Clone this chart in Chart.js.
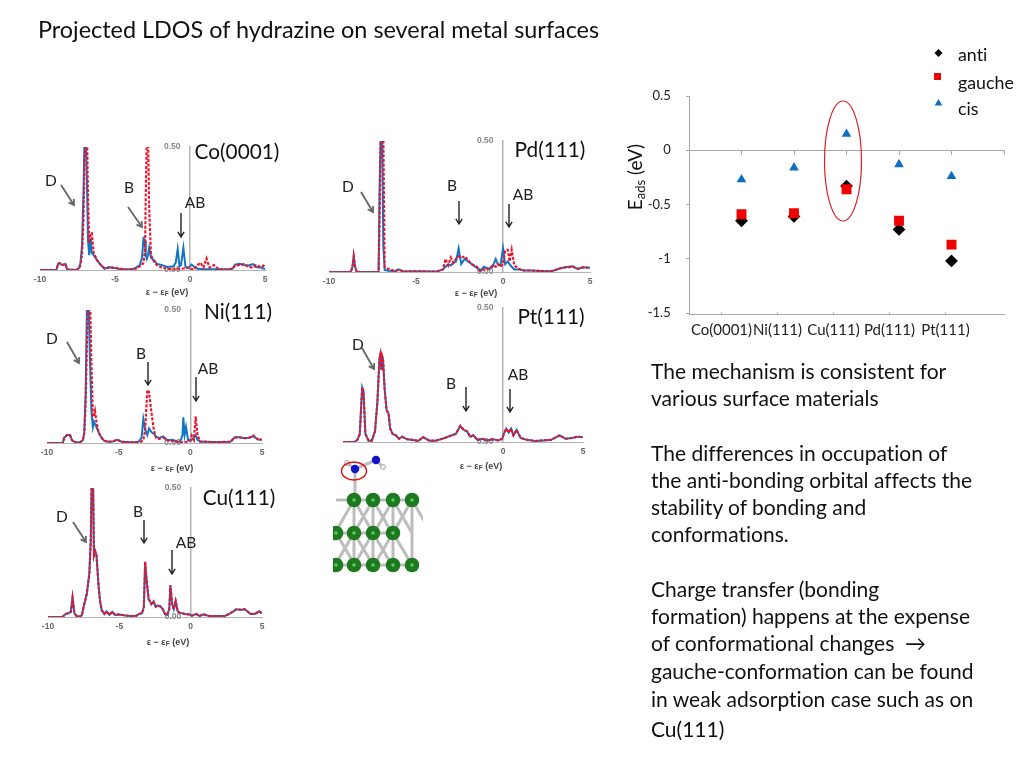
<!DOCTYPE html>
<html><head><meta charset="utf-8">
<script src="https://cdn.jsdelivr.net/npm/chart.js@4"></script>
<style>
html,body{margin:0;padding:0;background:#fff;width:1024px;height:768px;overflow:hidden;font-family:Lato,"Open Sans",sans-serif;color:#111;font-variant-ligatures:none}
canvas{position:absolute}
.t{position:absolute;white-space:nowrap;transform:translateY(-50%)}
.c{transform:translate(-50%,-50%)}
.b{font-size:23.4px}
.p{font-size:20.8px}
.m{font-size:15.5px;color:#222}
.l{font-size:17.8px;color:#111}
.ax{font:bold 9px "Liberation Sans",sans-serif;color:#444}
.ax sub{font-size:6.5px;vertical-align:-1px;line-height:0}
svg{position:absolute;left:0;top:0}
</style></head><body>
<canvas id="co"></canvas><canvas id="ni"></canvas><canvas id="cu"></canvas>
<canvas id="pd"></canvas><canvas id="pt"></canvas><canvas id="eads"></canvas>
<svg id="ov" width="1024" height="768"></svg>
<div id="txt"></div>
<script>
// ---------- adsorption energy chart ----------
const surfaces = ["Co(0001)","Ni(111)","Cu(111)","Pd(111)","Pt(111)"];
const antiEads = [-0.65,-0.61,-0.33,-0.73,-1.02];
const gaucheEads = [-0.59,-0.58,-0.36,-0.65,-0.87];
const cisEads = [-0.27,-0.16,0.15,-0.13,-0.24];
const eadsTicks = [0.5,0,-0.5,-1,-1.5];

// ---------- projected LDOS, energies in eV, blue solid / red dashed curves ----------
const coE = [-10,-8.9,-8.8,-8.7,-8.5,-8.3,-8.2,-7.6,-7.4,-7.3,-7.2,-7.1,-7.03,-6.95,-6.85,-6.8,-6.72,-6.62,-6.55,-6.42,-6.2,-5.95,-5.7,-5.4,-5,-4.7,-4.2,-3.8,-3.55,-3.35,-3.2,-3.1,-3,-2.95,-2.88,-2.8,-2.72,-2.6,-2.4,-2.2,-1.9,-1.5,-1.1,-.95,-.82,-.7,-.6,-.44,-.3,-.1,.1,.3,.5,.7,.9,1.1,1.3,1.6,1.9,2.5,2.85,3,3.3,3.6,3.9,4.2,4.4,4.7,4.9,5];
const coBlue = [0,0,.025,.028,.02,.025,.002,0,.008,.03,.1,.32,.55,.55,.3,.12,.06,.13,.07,.06,.04,.02,.005,.012,.008,.004,.002,.004,.012,.02,.05,.128,.12,.06,.045,.06,.09,.05,.04,.025,.02,.012,.015,.03,.085,.015,.02,.09,.012,.008,.022,.012,.005,.004,.003,.003,.003,.003,.003,.002,.006,.022,.025,.02,.018,.024,.012,.01,.006,.004];
const coRed = [0,0,.025,.028,.02,.025,.002,0,.006,.02,.06,.2,.45,.58,.5,.3,.11,.15,.15,.07,.04,.02,.008,.008,.01,.005,.002,.004,.006,.015,.02,.03,.08,.3,.55,.55,.25,.06,.035,.02,.01,.005,.003,.003,.005,.005,.005,.006,.006,.01,.004,.003,.02,.03,.01,.047,.01,.02,.004,.002,.006,.018,.02,.024,.012,.01,.02,.012,.018,.01];

const niE = [-10,-8.9,-8.8,-8.6,-8.4,-8.25,-8,-7.7,-7.5,-7.4,-7.3,-7.2,-7.1,-7,-6.9,-6.8,-6.72,-6.65,-6.55,-6.4,-6.2,-6,-5.7,-5.4,-5.1,-4.8,-4.3,-3.9,-3.6,-3.4,-3.28,-3.15,-3,-2.88,-2.7,-2.55,-2.4,-2.2,-1.9,-1.6,-1.3,-1,-.7,-.55,-.49,-.4,-.3,-.15,0,.1,.25,.37,.5,.7,1,1.5,2.2,2.8,3.1,3.4,3.8,4.1,4.4,4.7,5];
const niBlue = [0,0,.02,.03,.03,.01,.002,.003,.01,.04,.2,.56,.55,.3,.12,.06,.08,.07,.06,.04,.02,.008,.005,.006,.012,.005,.003,.003,.005,.02,.09,.05,.03,.055,.04,.035,.025,.018,.025,.01,.012,.006,.005,.03,.097,.03,.06,.01,.008,.012,.02,.03,.012,.005,.005,.004,.004,.005,.022,.022,.018,.02,.025,.014,.012];
const niRed = [0,0,.02,.03,.03,.01,.002,.003,.01,.035,.15,.4,.56,.56,.3,.1,.1,.12,.08,.04,.02,.008,.005,.006,.012,.005,.003,.003,.004,.006,.01,.05,.2,.19,.11,.05,.02,.015,.02,.01,.008,.006,.003,.003,.003,.003,.004,.006,.01,.028,.012,.1,.03,.005,.005,.004,.004,.005,.02,.022,.018,.02,.028,.014,.012];

const pdE = [-10,-8.75,-8.65,-8.58,-8.5,-8.4,-7.3,-7.15,-7.1,-7.02,-6.95,-6.88,-6.8,-6.6,-6.2,-6,-5.7,-5,-4.3,-3.8,-3.45,-3.3,-3.15,-3,-2.85,-2.7,-2.55,-2.4,-2.2,-2,-1.8,-1.5,-1.3,-1.1,-.8,-.6,-.42,-.3,-.15,0,.12,.27,.38,.5,.65,.9,1.2,1.6,2.2,2.8,3.3,3.6,4,4.3,4.6,5];
const pdBlue = [0,0,.02,.06,.02,0,0,0,.3,.55,.55,.1,.008,.005,.003,.01,.002,.003,.002,.002,.01,.02,.03,.025,.035,.04,.09,.03,.05,.04,.03,.015,.004,.02,.012,.02,.05,.03,.025,.09,.03,.04,.03,.02,.01,.01,.006,.006,.004,.003,.014,.018,.022,.012,.018,.016];
const pdRed = [0,0,.02,.06,.02,0,0,0,.15,.56,.58,.55,.02,.012,.003,.008,.002,.003,.002,.002,.01,.05,.025,.055,.035,.05,.06,.055,.06,.045,.03,.02,.002,.01,.012,.025,.02,.03,.02,.03,.08,.085,.04,.085,.025,.012,.006,.006,.004,.003,.014,.018,.02,.012,.018,.016];

const ptE = [-10,-9.3,-9.1,-8.95,-8.85,-8.8,-8.72,-8.6,-8.4,-8.2,-8,-7.85,-7.72,-7.67,-7.6,-7.55,-7.5,-7.4,-7.28,-7.15,-7.05,-6.9,-6.7,-6.5,-6.3,-6,-5.7,-5.3,-5,-4.6,-4.2,-3.8,-3.5,-3.2,-2.95,-2.67,-2.45,-2.25,-2.05,-1.85,-1.6,-1.3,-1,-.6,-.3,-.05,.05,.2,.35,.5,.65,.85,1.1,1.5,2,2.5,3,3.55,3.9,4.3,4.7,5];
const ptBoth = [0,0,.008,.03,.15,.204,.19,.03,.005,.005,.04,.15,.31,.325,.27,.32,.31,.2,.12,.105,.05,.03,.025,.012,.02,.01,.008,.004,.018,.005,.005,.012,.018,.025,.03,.06,.045,.04,.02,.025,.008,.012,.006,.01,.006,.012,.03,.05,.035,.05,.025,.045,.015,.008,.004,.006,.008,.025,.012,.015,.02,.018];

const cuE = [-10,-9,-8.75,-8.55,-8.4,-8.28,-8.15,-8,-7.8,-7.63,-7.5,-7.28,-7.1,-7,-6.93,-6.85,-6.78,-6.7,-6.6,-6.47,-6.35,-6.23,-6.05,-5.9,-5.7,-5.5,-5.3,-5,-4.6,-4.2,-3.8,-3.6,-3.4,-3.28,-3.19,-3.1,-2.95,-2.75,-2.6,-2.45,-2.3,-2.1,-1.95,-1.8,-1.65,-1.5,-1.42,-1.3,-1.18,-1.05,-.9,-.7,-.4,-.1,.1,.4,.6,.9,1.3,1.8,2.4,2.7,3,3.2,3.5,3.8,4.2,4.5,4.8,5];
const cuBoth = [0,0,.012,.015,.02,.075,.015,.004,.002,.006,.04,.09,.17,.3,.56,.56,.24,.256,.24,.13,.06,.026,.012,.022,.008,.02,.008,.01,.006,.004,.005,.012,.015,.04,.214,.15,.07,.05,.06,.04,.045,.04,.03,.012,.008,.03,.123,.05,.03,.062,.02,.016,.012,.01,.005,.012,.004,.01,.004,.004,.004,.012,.022,.03,.028,.03,.012,.012,.022,.014];

const blueLine = "#1175c4", redLine = "#f0102a", axisGrey = "#b4b4b4", tickText = "#666";

function makeLdos(id, rect, energies, blue, red, xTickValues){
  const pad = {left:30,right:30,top:12,bottom:30};
  const cv = document.getElementById(id);
  cv.width = rect.r-rect.l+pad.left+pad.right;
  cv.height = rect.b-rect.t+pad.top+pad.bottom;
  cv.style.left = (rect.l-pad.left)+"px";
  cv.style.top = (rect.t-pad.top)+"px";
  const tk = {family:"Liberation Sans",size:8.5,weight:"bold"};
  new Chart(cv,{type:"scatter",data:{datasets:[
    {label:"blue",order:2,data:energies.map((x,i)=>({x,y:blue[i]})),showLine:true,borderColor:blueLine,borderWidth:2,pointRadius:0,tension:0},
    {label:"red",order:1,data:energies.map((x,i)=>({x,y:red[i]})),showLine:true,borderColor:redLine,borderWidth:2.1,borderDash:[3,1.6],pointRadius:0,tension:0}
  ]},options:{responsive:false,animation:false,layout:{padding:pad,autoPadding:false},
    plugins:{legend:{display:false},tooltip:{enabled:false}},
    scales:{
      x:{type:"linear",min:-10,max:5,position:{y:0},
        afterBuildTicks:s=>{s.ticks=xTickValues.map(value=>({value}))},
        grid:{drawOnChartArea:false,drawTicks:false},border:{color:axisGrey,width:1},
        ticks:{padding:5,font:tk,color:tickText,maxRotation:0,autoSkip:false}},
      y:{type:"linear",min:0,max:0.5,position:{x:0},
        afterBuildTicks:s=>{s.ticks=[0,0.5].map(value=>({value}))},
        grid:{drawOnChartArea:false,drawTicks:false},border:{color:axisGrey,width:1.5},
        ticks:{font:tk,color:"#888",callback:v=>v.toFixed(2)+"\u00a0\u00a0\u00a0\u00a0"}}
    }}});
}
const tenTicks=[-10,-5,0,5];
makeLdos("co",{l:40,r:265,t:147,b:270},coE,coBlue,coRed,tenTicks);
makeLdos("ni",{l:47,r:262,t:310,b:443},niE,niBlue,niRed,tenTicks);
makeLdos("cu",{l:48,r:262,t:488,b:617},cuE,cuBoth,cuBoth,tenTicks);
makeLdos("pd",{l:329,r:590,t:141,b:272},pdE,pdBlue,pdRed,tenTicks);
makeLdos("pt",{l:343,r:583,t:308,b:442},ptE,ptBoth,ptBoth,[0,5]);

// ---------- Eads scatter ----------
(function(){
  const cv=document.getElementById("eads");
  cv.width=384;cv.height=270;cv.style.left="640px";cv.style.top="80px";
  const col={a:"#000",g:"#f00000",c:"#0f6fbe"};
  const mk=(label,vals,style,r,c,order)=>({label,order,data:vals.map((y,i)=>({x:i+1,y})),pointStyle:style,pointRadius:r,pointBackgroundColor:c,pointBorderWidth:0,showLine:false});
  new Chart(cv,{type:"scatter",data:{datasets:[
    mk("anti",antiEads,"rectRot",6.4,col.a,3),
    mk("gauche",gaucheEads,"rect",7,col.g,2),
    mk("cis",cisEads,"triangle",5.6,col.c,1)
  ]},options:{responsive:false,animation:false,layout:{padding:{left:0,right:20,top:16,bottom:10.5},autoPadding:false},
    plugins:{legend:{display:false},tooltip:{enabled:false}},
    scales:{
      x:{type:"linear",min:0,max:6,position:{y:0},
        afterBuildTicks:s=>{s.ticks=[0,1,2,3,4,5,6].map(value=>({value}))},
        ticks:{display:false},grid:{drawOnChartArea:false,tickLength:4,color:"#a8a8a8"},border:{color:"#a8a8a8",width:1}},
      x2:{type:"linear",min:0.42,max:6.045,position:"bottom",
        afterBuildTicks:s=>{s.ticks=surfaces.map((_,i)=>({value:i+1}))},
        afterFit:s=>{s.height=25},
        grid:{drawOnChartArea:false,tickLength:-2,color:"#a8a8a8"},border:{color:"#a8a8a8",width:1},
        ticks:{padding:9,autoSkip:false,maxRotation:0,font:{family:"Lato",size:15},color:"#222",callback:v=>surfaces[v-1]}},
      y:{type:"linear",min:-1.5138,max:0.5,position:"left",
        afterBuildTicks:s=>{s.ticks=eadsTicks.map(value=>({value}))},
        afterFit:s=>{s.width=49},
        grid:{drawOnChartArea:false,tickLength:3,color:"#a8a8a8"},border:{color:"#a8a8a8",width:1},
        ticks:{padding:2,font:{family:"Lato",size:13},color:"#222",callback:v=>String(v)+"\u00a0\u00a0\u00a0\u00a0"}}
    }}});
})();

// ---------- slide texts ----------
const titleText="Projected LDOS of hydrazine on several metal surfaces";
const bodyLines=[
 ["The mechanism is consistent for",370],["various surface materials",397],
 ["The differences in occupation of",452],["the anti-bonding orbital affects the",479],
 ["stability of bonding and",506],["conformations.",533],
 ["Charge transfer (bonding",588],["formation) happens at the expense",615],
 ["of conformational changes \u00a0\u2192",642],["gauche-conformation can be found",670],
 ["in weak adsorption case such as on",698],["Cu(111)",728]];
const panelNames=[["Co(0001)",237,150],["Ni(111)",238,310],["Cu(111)",239,496],["Pd(111)",550,148],["Pt(111)",551,315]];
const peakNames=[["D",51,180],["B",129,187],["AB",195,202],["D",348,186],["B",452,185],["AB",523,194],
 ["D",52,338],["B",141,353],["AB",208,368],["D",358,344],["B",451,383],["AB",518,374],
 ["D",62,516],["B",138,511],["AB",186,542]];
const axisTitles=[[167,292],[476,293],[172,468],[481,466],[168,642]];
const legendNames=[["anti",54],["gauche",82],["cis",108]];
const box=document.getElementById("txt");
function put(text,x,y,cls,center){const d=document.createElement("div");d.className="t "+cls+(center?" c":"");d.style.left=x+"px";d.style.top=y+"px";d.innerHTML=text;box.appendChild(d);return d;}
put(titleText,38,29,"b");
bodyLines.forEach(l=>{const d=put(l[0],651,l[1],"p");d.style.fontSize="21px";});
panelNames.forEach(l=>put(l[0],l[1],l[2],"p",true));
peakNames.forEach(l=>put(l[0],l[1],l[2],"m",true));
axisTitles.forEach(l=>put("\u03b5 \u2212 \u03b5<sub>F</sub> (eV)",l[0],l[1],"ax",true));
legendNames.forEach(l=>put(l[0],958,l[1],"l"));
const yt=put("E<sub style='font-size:13px;vertical-align:-3px;line-height:0'>ads</sub> (eV)",634,177,"",true);
yt.style.fontSize="19px";yt.style.transform="translate(-50%,-50%) rotate(-90deg)";

// ---------- overlay annotations ----------
const S=[];
function arrow(x1,y1,x2,y2,c,w){
  const a=Math.atan2(y2-y1,x2-x1),h=6;
  S.push(`<path d="M${x1} ${y1}L${x2} ${y2}M${x2-h*Math.cos(a-.55)} ${y2-h*Math.sin(a-.55)}L${x2} ${y2}L${x2-h*Math.cos(a+.55)} ${y2-h*Math.sin(a+.55)}" fill="none" stroke="${c}" stroke-width="${w}"/>`);
}
const greyArrows=[[61,185,74,205],[128,207,142,227],[361,192,373,212],[67,342,79,363],[362,348,374,369],[73,522,86,542]];
const blackArrows=[[181,213,181,237],[459,201,459,224],[509,204,509,227],[148,362,148,385],[196,377,196,401],[466,387,466,411],[510,389,510,412],[144,520,144,543],[172,550,172,574]];
greyArrows.forEach(a=>arrow(...a,"#666",1.8));
blackArrows.forEach(a=>arrow(...a,"#222",1.4));
S.push(`<ellipse cx="843" cy="161" rx="18.5" ry="60" fill="none" stroke="#d8202c" stroke-width="1.2"/>`);
S.push(`<path d="M938.5 49l4 4-4 4-4-4z" fill="#000"/><rect x="934" y="73" width="7" height="7" fill="#f00000"/><path d="M938.5 99l3.8 6.5h-7.6z" fill="#0f6fbe"/>`);
// slab illustration
const row1=[354,373,393,412],row2=[336,354,373,393],row3=[336,354,373,393,412];
let g=`<defs><clipPath id="sl"><rect x="333" y="455" width="90" height="120"/></clipPath></defs><g clip-path="url(#sl)">`;
const bond=(a,b,c,d)=>g+=`<line x1="${a}" y1="${b}" x2="${c}" y2="${d}" stroke="#bdbdbd" stroke-width="3"/>`;
row1.forEach(x=>{bond(x,500,x,565);bond(x,500,x-19,533);bond(x,500,x+19,533)});
row2.forEach(x=>{bond(x,533,x+19,565);bond(x,533,x-19,565)});
bond(336,500,412,500);bond(336,533,393,533);bond(336,565,412,565);
bond(355,470,355,500);bond(355,469,376,460);bond(347,463,355,469);bond(376,460,383,467);
const atom=(x,y,r,c)=>g+=`<circle cx="${x}" cy="${y}" r="${r}" fill="${c}"/><circle cx="${x}" cy="${y}" r="${r*.25}" fill="#6fdc6f" opacity="${c==='#1e7a1e'?.8:0}"/>`;
row1.forEach(x=>atom(x,500,7.3,"#1e7a1e"));row2.forEach(x=>atom(x,533,7.3,"#1e7a1e"));row3.forEach(x=>atom(x,565,7.3,"#1e7a1e"));
atom(355,469,4.2,"#1212c8");atom(376,460,4.2,"#1212c8");
g+=`<circle cx="347" cy="463" r="2.5" fill="#eee" stroke="#aaa"/><circle cx="383" cy="467" r="2.5" fill="#eee" stroke="#aaa"/></g>`;
S.push(g);
S.push(`<ellipse cx="354" cy="471" rx="12.5" ry="9" fill="none" stroke="#e01010" stroke-width="1.4"/>`);
document.getElementById("ov").innerHTML=S.join("");
</script></body></html>
